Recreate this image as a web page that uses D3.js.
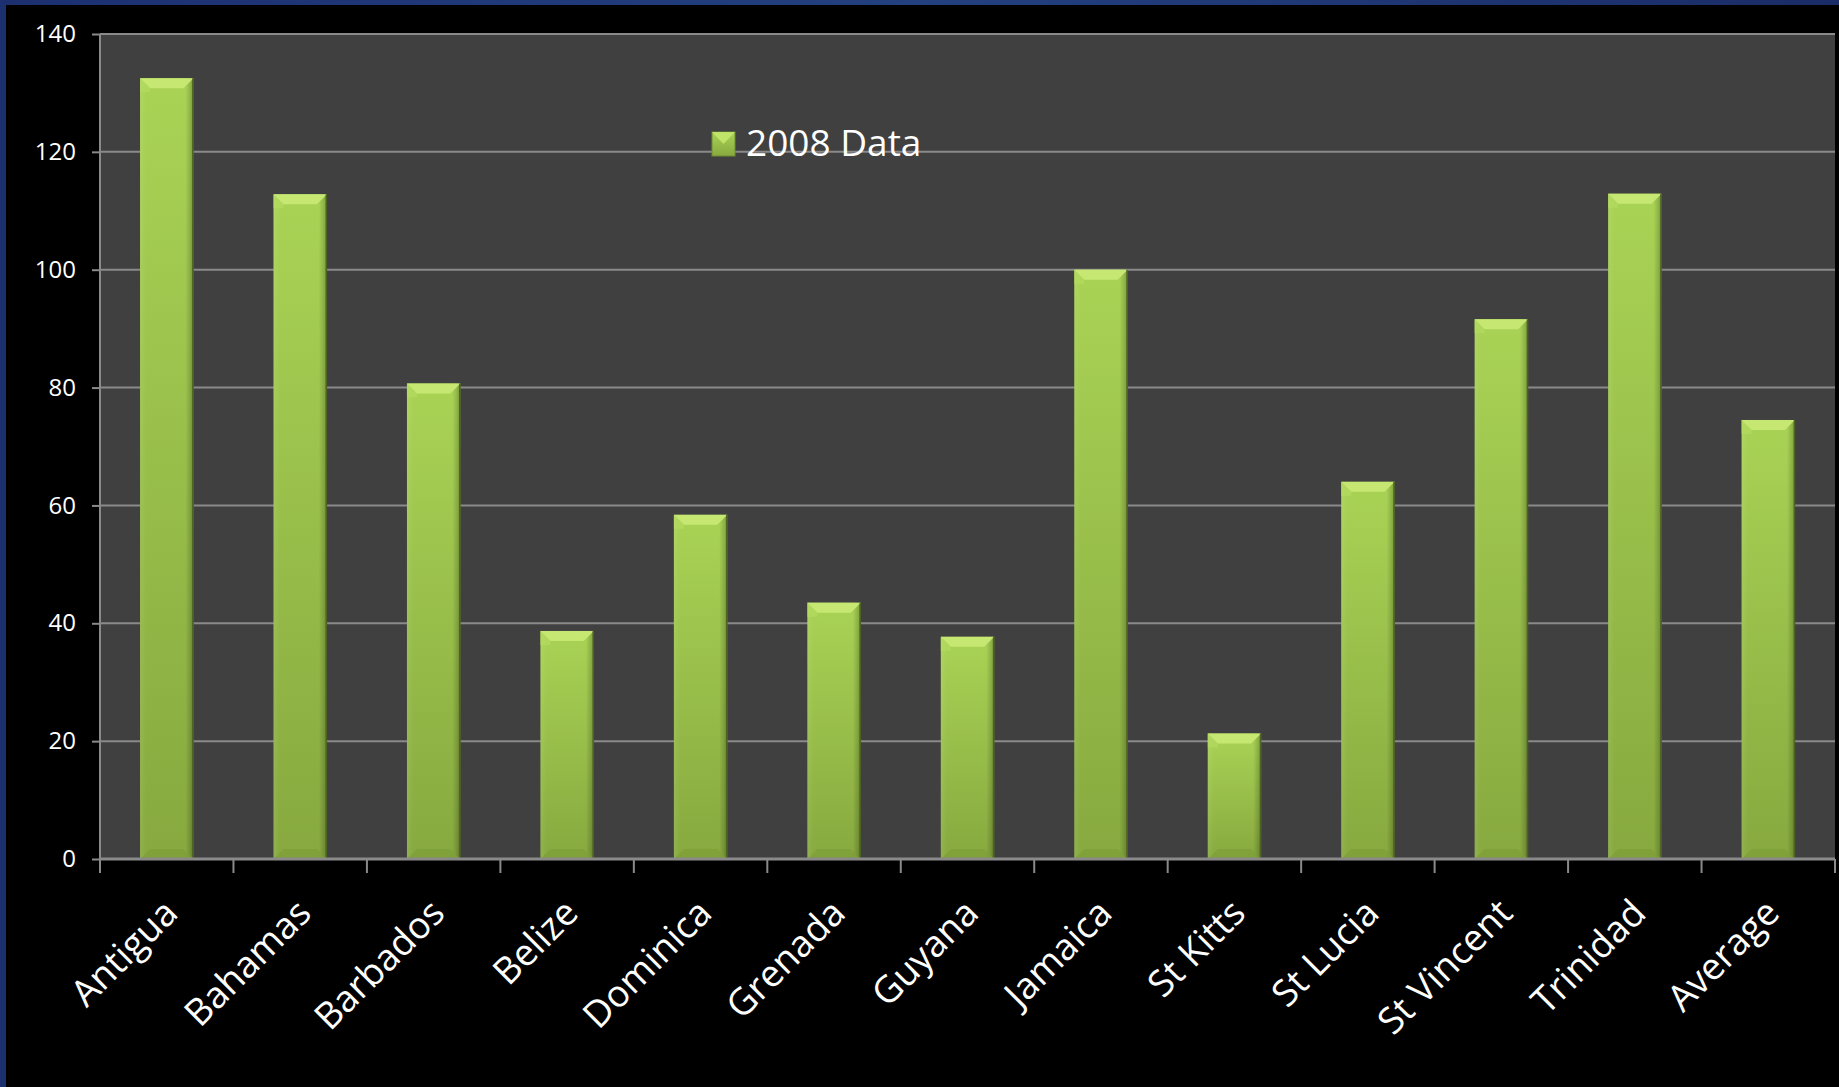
<!DOCTYPE html>
<html>
<head>
<meta charset="utf-8">
<script src="https://cdn.jsdelivr.net/npm/d3@7"></script>
<style>
html,body{margin:0;padding:0;background:#000;}
svg{display:block;}
text{font-family:"Open Sans","Lato",sans-serif;fill:#fff;}
</style>
</head>
<body>
<script>
const categories = ["Antigua","Bahamas","Barbados","Belize","Dominica","Grenada","Guyana","Jamaica","St Kitts","St Lucia","St Vincent","Trinidad","Average"];
const values2008 = [132.5,112.8,80.7,38.7,58.4,43.5,37.7,100,21.3,64,91.6,112.9,74.5];
const yTicks = [0,20,40,60,80,100,120,140];
const seriesName = "2008 Data";

const W = 1839, H = 1087;
const plot = {left:100, right:1835, top:34, bottom:859};

const svg = d3.select("body").append("svg").attr("width", W).attr("height", H);
const defs = svg.append("defs");

// background & frame
const bg = defs.append("linearGradient").attr("id","frame").attr("x1",0).attr("x2",1).attr("y1",0).attr("y2",0);
bg.append("stop").attr("offset","0%").attr("stop-color","#1c3070");
bg.append("stop").attr("offset","50%").attr("stop-color","#23407f");
bg.append("stop").attr("offset","100%").attr("stop-color","#1a2c68");
svg.append("rect").attr("width",W).attr("height",H).attr("fill","#000");
svg.append("rect").attr("x",0).attr("y",0).attr("width",W).attr("height",5).attr("fill","url(#frame)");
svg.append("rect").attr("x",0).attr("y",0).attr("width",6).attr("height",H).attr("fill","#1c2f6e");

// gradients for bars
const gV = defs.append("linearGradient").attr("id","barV").attr("x1",0).attr("x2",0).attr("y1",0).attr("y2",1);
gV.append("stop").attr("offset","0%").attr("stop-color","#a9d355");
gV.append("stop").attr("offset","100%").attr("stop-color","#87a93f");
const gH = defs.append("linearGradient").attr("id","barH").attr("x1",0).attr("x2",1).attr("y1",0).attr("y2",0);
gH.append("stop").attr("offset","0%").attr("stop-color","#ffffff").attr("stop-opacity",0.08);
gH.append("stop").attr("offset","12%").attr("stop-color","#ffffff").attr("stop-opacity",0.0);
gH.append("stop").attr("offset","85%").attr("stop-color","#000000").attr("stop-opacity",0.0);
gH.append("stop").attr("offset","96%").attr("stop-color","#000000").attr("stop-opacity",0.18);
gH.append("stop").attr("offset","100%").attr("stop-color","#000000").attr("stop-opacity",0.45);

const x = d3.scaleBand().domain(categories).range([plot.left, plot.right]).paddingInner(0.6).paddingOuter(0.3);
const y = d3.scaleLinear().domain([0,140]).range([plot.bottom, plot.top]);

// plot area
svg.append("rect").attr("x",plot.left).attr("y",plot.top).attr("width",plot.right-plot.left).attr("height",plot.bottom-plot.top).attr("fill","#404040");

// gridlines
svg.append("g").selectAll("line").data(yTicks.filter(d=>d>0)).join("line")
  .attr("x1",plot.left).attr("x2",plot.right)
  .attr("y1",d=>y(d)).attr("y2",d=>y(d))
  .attr("stroke","#8a8a8a").attr("stroke-width",2);

// legend
const lg = svg.append("g").attr("transform","translate(712,132)");
lg.append("rect").attr("width",23).attr("height",24).attr("fill","url(#barV)").attr("stroke","#6f8c30").attr("stroke-width",1);
lg.append("path").attr("d","M0,0 L23,0 L11.5,12 Z").attr("fill","#c3e56c").attr("opacity",0.9);
lg.append("text").attr("x",34).attr("y",24).attr("font-size",37).text(seriesName);

// bars
const bars = svg.append("g").selectAll("g").data(categories.map((c,i)=>({c, v: values2008[i]}))).join("g")
  .attr("transform", d=>`translate(${x(d.c)},${y(d.v)})`);
const bw = x.bandwidth();
bars.append("rect").attr("width",bw).attr("height",d=>y(0)-y(d.v)).attr("fill","url(#barV)");
bars.append("rect").attr("width",bw).attr("height",d=>y(0)-y(d.v)).attr("fill","url(#barH)");
// top bevel
const bev = 10;
bars.append("path").attr("d",`M0,0 L${bw},0 L${bw-bev},${bev} L${bev},${bev} Z`).attr("fill","#c6e873");
bars.append("path").attr("d",`M0,0 L${bev},${bev} L${bev},${bev+4} L0,${bev+4} Z`).attr("fill","#b5dc60").attr("opacity",0.6);
// bottom bevel
bars.append("path").attr("d",d=>{const h=y(0)-y(d.v);return `M0,${h} L${bw},${h} L${bw-bev},${h-bev} L${bev},${h-bev} Z`;}).attr("fill","#7e9e38").attr("opacity",0.7);
bars.append("line").attr("x1",bw-0.5).attr("x2",bw-0.5).attr("y1",0).attr("y2",d=>y(0)-y(d.v)).attr("stroke","#4d6322").attr("stroke-width",1.5);

// y axis
const yAxis = svg.append("g").attr("transform",`translate(${plot.left},0)`)
  .call(d3.axisLeft(y).tickValues(yTicks).tickSize(8).tickPadding(16).tickFormat(d3.format("d")));
yAxis.select(".domain").attr("stroke","#8a8a8a").attr("stroke-width",2).attr("d",`M0,${plot.top}V${plot.bottom}`);
yAxis.selectAll(".tick line").attr("stroke","#8a8a8a").attr("stroke-width",2);
yAxis.selectAll(".tick text").attr("font-size",24).attr("font-family","'Open Sans',sans-serif").attr("fill","#fff");

// x axis
const xAxis = svg.append("g").attr("transform",`translate(0,${plot.bottom})`)
  .call(d3.axisBottom(x).tickSize(0).tickFormat(""));
xAxis.select(".domain").attr("stroke","#8a8a8a").attr("stroke-width",3).attr("d",`M${plot.left},0H${plot.right}`);
const boundaries = [x.range()[0]].concat(categories.map(c=>x(c)-x.step()*x.paddingInner()/2+x.step()));
svg.append("g").selectAll("line").data(boundaries).join("line")
  .attr("x1",d=>d).attr("x2",d=>d).attr("y1",plot.bottom).attr("y2",plot.bottom+14)
  .attr("stroke","#8a8a8a").attr("stroke-width",2);

// x labels rotated
svg.append("g").selectAll("text").data(categories).join("text")
  .attr("transform", c=>`translate(${x(c)+bw/2+4},${plot.bottom+47}) rotate(-45)`)
  .attr("text-anchor","end").attr("font-size",37).attr("dy","0.35em")
  .text(c=>c);
</script>
</body>
</html>
